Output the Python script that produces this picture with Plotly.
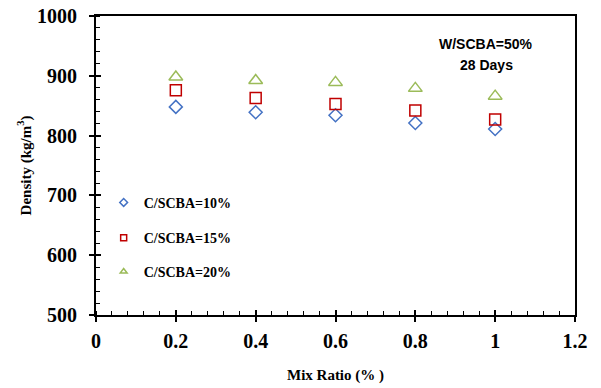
import plotly.graph_objects as go

mix_ratio = [0.2, 0.4, 0.6, 0.8, 1.0]
density_c10 = [848, 839, 834, 821, 811]
density_c15 = [876, 863, 853, 842, 827]
density_c20 = [898, 892, 889, 879, 866]

series_names = ["C/SCBA=10%", "C/SCBA=15%", "C/SCBA=20%"]
x_ticks = [0, 0.2, 0.4, 0.6, 0.8, 1, 1.2]
y_ticks = [500, 600, 700, 800, 900, 1000]

colors = ["#4472C4", "#C00000", "#9BBB59"]
symbols = ["diamond-open", "square-open", "triangle-up-open"]
sizes = [10, 11, 12]
legends = ["legend", "legend2", "legend3"]

fig = go.Figure()
for vals, name, c, s, sz in zip([density_c10, density_c15, density_c20], series_names, colors, symbols, sizes):
    fig.add_trace(go.Scatter(x=mix_ratio, y=vals, mode="markers", name=name, showlegend=False,
                             marker=dict(symbol=s, size=sz, color=c, line=dict(color=c, width=1.5))))
# legend entries (small symbols)
for name, c, s, lg in zip(series_names, colors, symbols, legends):
    fig.add_trace(go.Scatter(x=[None], y=[None], mode="markers", name=name, legend=lg,
                             marker=dict(symbol=s, size=6, color=c, line=dict(color=c, width=1.5))))

# overlay axes for crossing major ticks
fig.add_trace(go.Scatter(x=[None], y=[None], xaxis="x2", yaxis="y2", showlegend=False))

serif = "Liberation Serif"
legend_common = dict(font=dict(family=serif, size=14, color="black", weight="bold"), bgcolor="rgba(0,0,0,0)",
                     itemwidth=30, xanchor="left", yanchor="middle", tracegroupgap=0)

fig.update_layout(
    width=601, height=388,
    margin=dict(l=96, r=26, t=16, b=73),
    paper_bgcolor="white", plot_bgcolor="white",
    xaxis=dict(range=[0, 1.2], tickvals=x_ticks, ticks="outside", ticklen=5, tickwidth=1.5, tickcolor="black",
               automargin=False, ticklabelstandoff=2,
               showgrid=False, zeroline=False, showline=True, linecolor="black", linewidth=2, mirror=True,
               minor=dict(dtick=0.04, ticks="inside", ticklen=4, tickcolor="black", tickwidth=1),
               tickfont=dict(family=serif, size=20, color="black", weight="bold"),
               title=dict(text="<b>Mix Ratio (% )</b>", font=dict(family=serif, size=15, color="black"), standoff=18)),
    yaxis=dict(range=[500, 1000], tickvals=y_ticks, ticks="outside", ticklen=5, tickwidth=1.5, tickcolor="black",
               automargin=False, ticklabelstandoff=8,
               showgrid=False, zeroline=False, showline=True, linecolor="black", linewidth=2, mirror=True,
               minor=dict(dtick=20, ticks="inside", ticklen=4, tickcolor="black", tickwidth=1),
               tickfont=dict(family=serif, size=20, color="black", weight="bold"),
               title=dict(text="<b>Density (kg/m<sup>3</sup>)</b>", font=dict(family=serif, size=15, color="black"), standoff=2)),
    xaxis2=dict(overlaying="x", matches="x", range=[0, 1.2], tickvals=x_ticks, ticks="inside", ticklen=5,
                automargin=False,
                tickwidth=1.5, tickcolor="black", showticklabels=False, showgrid=False, zeroline=False),
    yaxis2=dict(overlaying="y", matches="y", range=[500, 1000], tickvals=y_ticks, ticks="inside", ticklen=5,
                automargin=False,
                tickwidth=1.5, tickcolor="black", showticklabels=False, showgrid=False, zeroline=False),
    legend=dict(x=0.016, y=0.375, **legend_common),
    legend2=dict(x=0.016, y=0.257, **legend_common),
    legend3=dict(x=0.016, y=0.144, **legend_common),
    annotations=[dict(text="<b>W/SCBA=50%</b>", x=0.815, y=0.905, xref="paper", yref="paper", showarrow=False,
                      xanchor="center", yanchor="middle",
                      font=dict(family="Liberation Sans", size=14, color="black")),
                 dict(text="<b>28 Days</b>", x=0.815, y=0.835, xref="paper", yref="paper", showarrow=False,
                      xanchor="center", yanchor="middle",
                      font=dict(family="Liberation Sans", size=14, color="black"))],
)

fig.write_html("out.html", config={"displayModeBar": False},
               post_script="document.body.style.margin='0';")
